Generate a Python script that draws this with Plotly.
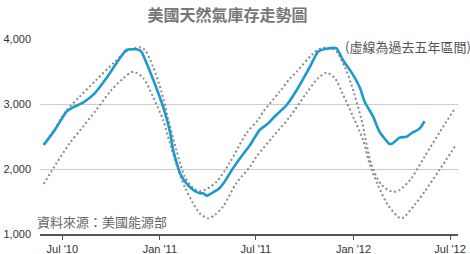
import plotly.graph_objects as go

# Actual storage (Bcf)
actual_dates = ["2010-05-27","2010-06-17","2010-07-09","2010-07-21","2010-08-09","2010-08-31","2010-09-22",
    "2010-10-11","2010-10-30","2010-11-18","2010-11-27","2010-12-07","2010-12-22","2011-01-07","2011-01-20",
    "2011-01-26","2011-02-08","2011-02-20","2011-03-05","2011-03-17","2011-03-23","2011-03-31","2011-04-08",
    "2011-04-21","2011-05-03","2011-05-16","2011-06-01","2011-06-20","2011-07-08","2011-07-24","2011-08-02",
    "2011-08-28","2011-09-16","2011-10-11","2011-10-26","2011-11-11","2011-11-30","2011-12-12","2011-12-28",
    "2012-01-13","2012-01-22","2012-01-29","2012-02-07","2012-02-16","2012-02-19","2012-03-09","2012-03-15",
    "2012-03-28","2012-04-10","2012-04-19","2012-04-25","2012-05-05","2012-05-14"]
actual_vals = [2369,2600,2882,2949,3020,3164,3395,3626,3831,3841,3805,3626,3318,2959,2574,
    2292,1933,1779,1677,1626,1626,1590,1626,1687,1805,1975,2164,2369,2600,2700,2780,
    2985,3215,3574,3805,3851,3856,3677,3490,3250,3036,2933,2805,2626,2574,2385,2395,
    2482,2497,2549,2574,2626,2735]

# Five-year maximum
max_dates = ["2010-05-27","2010-06-17","2010-07-09","2010-08-03","2010-09-03","2010-10-05","2010-10-30",
    "2010-11-24","2010-12-04","2010-12-19","2011-01-04","2011-01-17","2011-02-01","2011-02-17","2011-03-05",
    "2011-03-17","2011-03-27","2011-04-18","2011-05-13","2011-06-13","2011-07-05","2011-07-15","2011-08-15",
    "2011-09-03","2011-09-16","2011-10-14","2011-11-02","2011-11-27","2011-12-16","2011-12-28","2012-01-16",
    "2012-02-04","2012-02-23","2012-03-15","2012-03-28","2012-04-19","2012-05-14","2012-06-11","2012-07-10"]
max_vals = [2380,2620,2900,3113,3369,3626,3805,3872,3831,3574,3190,2754,2292,1882,1703,
    1662,1677,1805,2100,2549,2754,2882,3190,3390,3497,3754,3860,3830,3560,3300,2760,
    2062,1754,1651,1677,1856,2190,2560,2933]

# Five-year minimum
min_dates = ["2010-05-27","2010-06-20","2010-07-15","2010-08-09","2010-09-03","2010-09-29","2010-10-24",
    "2010-11-12","2010-12-01","2010-12-19","2011-01-07","2011-01-20","2011-02-02","2011-02-17","2011-03-04",
    "2011-03-17","2011-04-02","2011-04-14","2011-04-30","2011-05-25","2011-06-20","2011-07-02","2011-08-02",
    "2011-09-03","2011-10-04","2011-10-26","2011-11-11","2011-11-27","2011-12-12","2011-12-31","2012-01-19",
    "2012-02-01","2012-02-16","2012-03-06","2012-03-31","2012-04-25","2012-05-14","2012-06-11","2012-07-10"]
min_vals = [1769,2087,2395,2651,2908,3190,3395,3497,3395,3113,2754,2395,2050,1720,1480,
    1320,1241,1290,1420,1780,2036,2190,2497,2805,3164,3395,3482,3395,3150,2810,2446,
    2062,1754,1446,1241,1446,1651,1985,2344]

tick_vals = ["2010-07-01","2011-01-01","2011-07-01","2012-01-01","2012-07-01"]
tick_text = ["Jul '10","Jan '11","Jul '11","Jan '12","Jul '12"]
y_ticks = [1000, 2000, 3000, 4000]
y_text = ["1,000", "2,000", "3,000", "4,000"]

dot_line = dict(color="#8a8a8a", width=2, dash="2px,2.6px", shape="spline", smoothing=0.8)

fig = go.Figure()
fig.add_trace(go.Scatter(x=max_dates, y=max_vals, mode="lines", line=dot_line, hoverinfo="skip"))
fig.add_trace(go.Scatter(x=min_dates, y=min_vals, mode="lines", line=dot_line, hoverinfo="skip"))
fig.add_trace(go.Scatter(x=actual_dates, y=actual_vals, mode="lines",
                         line=dict(color="#1c9ad0", width=2.6, shape="spline", smoothing=0.5)))

fig.update_layout(
    width=470, height=254,
    margin=dict(l=40, r=12, t=39, b=20),
    paper_bgcolor="white", plot_bgcolor="white",
    showlegend=False,
    font=dict(family="Liberation Sans, Arial, sans-serif", size=11, color="#333"),
    title=dict(text="<b>美國天然氣庫存走勢圖</b>", x=0.484, xanchor="center", y=0.94, yanchor="middle",
               font=dict(family="Noto Sans CJK TC", size=16, color="#777")),
    xaxis=dict(type="date", range=["2010-05-20", "2012-07-16"], tickvals=tick_vals, ticktext=tick_text,
               showgrid=False, showline=True, linecolor="#555", linewidth=1.5,
               ticks="outside", ticklen=4, tickcolor="#555", tickwidth=1, automargin=False,
               tickfont=dict(size=11, color="#333"), zeroline=False),
    yaxis=dict(range=[1000, 4000], tickvals=y_ticks, ticktext=y_text, automargin=False,
               showgrid=True, gridcolor="#cccccc", gridwidth=1, zeroline=False,
               showline=False, ticks="", ticklabelstandoff=8,
               tickfont=dict(size=11, color="#333")),
    annotations=[
        dict(text="(虛線為過去五年區間)", xref="paper", yref="paper", x=1.035, y=0.96,
             xanchor="right", yanchor="middle", showarrow=False,
             font=dict(family="Noto Sans CJK TC", size=13, color="#555")),
        dict(text="資料來源：美國能源部", xref="paper", yref="paper", x=-0.012, y=0.065,
             xanchor="left", yanchor="middle", showarrow=False,
             font=dict(family="Noto Sans CJK TC", size=13, color="#666")),
    ],
)
for tr in fig.data:
    tr.cliponaxis = False

fig.write_html("out.html")
